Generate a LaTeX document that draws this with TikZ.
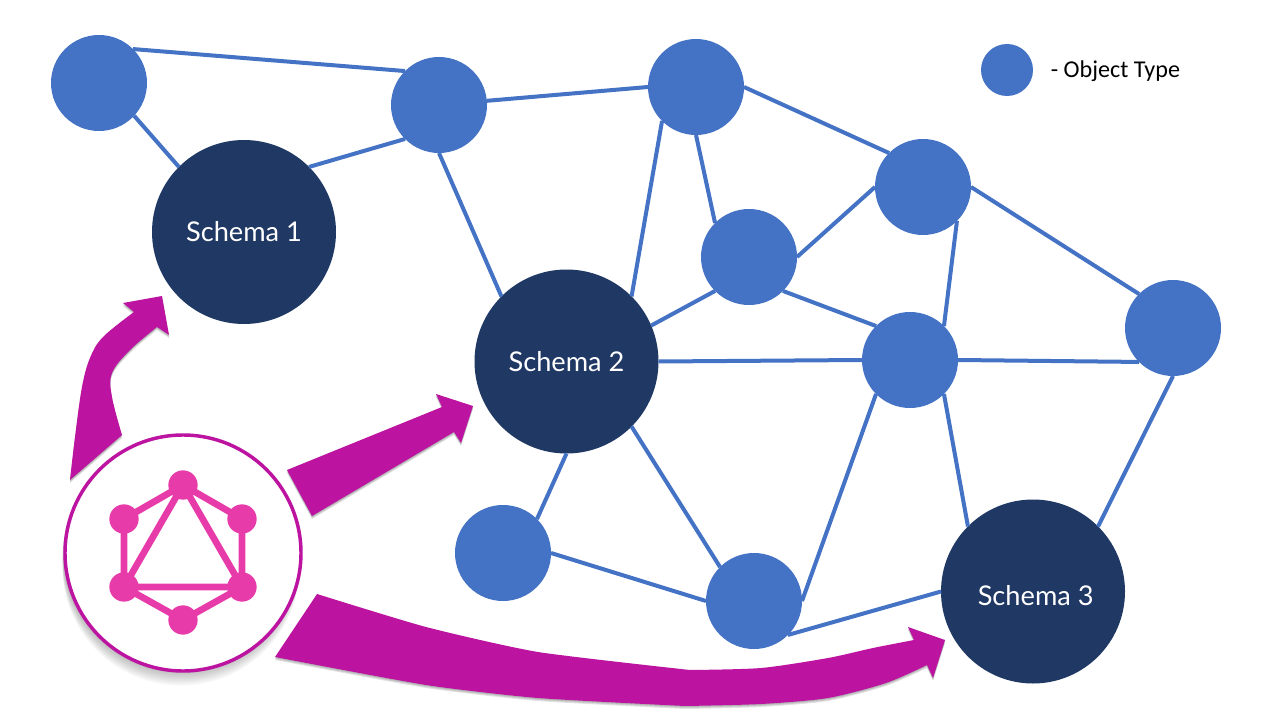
\documentclass[tikz,border=0pt]{standalone}
\usepackage{fontspec}
\setmainfont{Carlito}
\newfontfamily\schemafont{Lato}
\definecolor{objblue}{HTML}{4472C4}
\definecolor{navy}{HTML}{203864}
\definecolor{arrowmag}{HTML}{BC14A0}
\definecolor{logopink}{HTML}{E83BAA}
\newcommand{\softarrow}[1]{%
  \foreach \k in {3,2,1}{\fill[black,opacity=.11,yshift=-\k*0.75pt] #1;}
  \fill[arrowmag] #1;}
\tikzset{
  x=0.75pt,y=-0.75pt,
  objnode/.style={circle,fill=objblue,minimum size=72pt,inner sep=0pt,outer sep=0pt},
  schemanode/.style={circle,fill=navy,minimum size=138pt,inner sep=0pt,outer sep=0pt,text=white,font=\schemafont\fontsize{20.4pt}{22pt}\selectfont},
  link/.style={draw=objblue,line width=3pt},
  logodot/.style={circle,fill=logopink,minimum size=22pt,inner sep=0pt,outer sep=0pt},
  logoline/.style={draw=logopink,line width=5pt},
}
\begin{document}
\begin{tikzpicture}
\useasboundingbox (0,0) rectangle (1280,720);
\fill[white] (0,0) rectangle (1280,720);

% object type nodes
\node[objnode] (A) at (99,83) {};
\node[objnode] (B) at (439,105) {};
\node[objnode] (C) at (696,87) {};
\node[objnode] (D) at (923,187) {};
\node[objnode] (E) at (749,257) {};
\node[objnode] (F) at (910,360) {};
\node[objnode] (G) at (1173,328) {};
\node[objnode] (H) at (503,553) {};
\node[objnode] (I) at (754,601) {};

% schema nodes
\node[schemanode] (S1) at (244,232) {Schema 1};
\node[schemanode] (S2) at (566.5,361.5) {Schema 2};
\node[schemanode] (S3) at (1033,591.5) {\hspace{4pt}\raisebox{-3pt}[\height][\depth]{Schema 3}};

% connectors
\draw[link] (A.45) -- (B.135);
\draw[link] (A.-43) -- (S1.135);
\draw[link] (S1.45) -- (B.-135);
\draw[link] (B.5) -- (C.180);
\draw[link] (B.-90) -- (S2.135);
\draw[link] (C.-135) -- (S2.45);
\draw[link] (C.-90) -- (E.135);
\draw[link] (C.0) -- (D.135);
\draw[link] (E.0) -- (D.180);
\draw[link] (E.-135) -- (S2.23);
\draw[link] (E.-45) -- (F.135);
\draw[link] (D.-45) -- (F.45);
\draw[link] (D.0) -- (G.135);
\draw[link] (S2.0) -- (F.180);
\draw[link] (F.0) -- (G.-135);
\draw[link] (F.-135) -- (I.0);
\draw[link] (F.-45) -- (S3.135);
\draw[link] (G.-90) -- (S3.45);
\draw[link] (S2.-90) -- (H.45);
\draw[link] (S2.-45) -- (I.135);
\draw[link] (H.0) -- (I.180);
\draw[link] (I.-45) -- (S3.180);

% legend
\node[circle,fill=objblue,minimum size=39pt,inner sep=0pt] (legdot) at (1007,70) {};
\node[anchor=west,inner sep=0pt,font=\fontsize{18.1pt}{20pt}\selectfont] (legtext) at (1050.5,71.5) {- Object Type};

% magenta arrows
\softarrow{(70,480) -- plot[smooth,tension=.6] coordinates {(70,480) (75,437) (82,387) (90,358) (103,337) (134,312)} -- (123,303) -- (162,296) -- (169,335) -- (157,327) -- plot[smooth,tension=.6] coordinates {(157,327) (130,350) (112,373) (112,397) (122,435)} -- cycle}
\softarrow{(287,470) -- (442,407) -- (436,394) -- (473,406) -- (461,443) -- (454,432) -- (312,516) -- cycle}
\softarrow{(317,594) -- plot[smooth,tension=.35] coordinates {(317,594) (426,627) (538,652) (690,670)} -- plot[smooth,tension=.45] coordinates {(690,670) (761,668) (828,658) (873,648) (914,640)} -- (908,627) -- (945,640) -- (933,678) -- (927,665) -- plot[smooth,tension=.45] coordinates {(927,665) (886,683) (828,698) (761,704) (685,706)} -- plot[smooth,tension=.35] coordinates {(685,706) (538,698) (426,685) (275,657)} -- cycle}

% logo circle with soft shadow
\foreach \k in {14,12,10,8,6,4,2}{\fill[black,opacity=.035] (181,553+\k) circle[radius=118.5];}
\node[circle,draw=arrowmag,fill=white,line width=2.6pt,minimum size=177pt,inner sep=0pt,outer sep=0pt] (logo) at (183,553) {};
\node[logodot] (L1) at (183,485) {};
\node[logodot] (L2) at (242,519) {};
\node[logodot] (L3) at (242,587) {};
\node[logodot] (L4) at (183,620) {};
\node[logodot] (L5) at (124,587) {};
\node[logodot] (L6) at (124,519) {};
\draw[logoline] (L1.center) -- (L2.center) -- (L3.center) -- (L4.center) -- (L5.center) -- (L6.center) -- (L1.center);
\draw[logoline,line join=miter] (L1.center) -- (L3.center) -- (L5.center) -- cycle;
\end{tikzpicture}
\end{document}
